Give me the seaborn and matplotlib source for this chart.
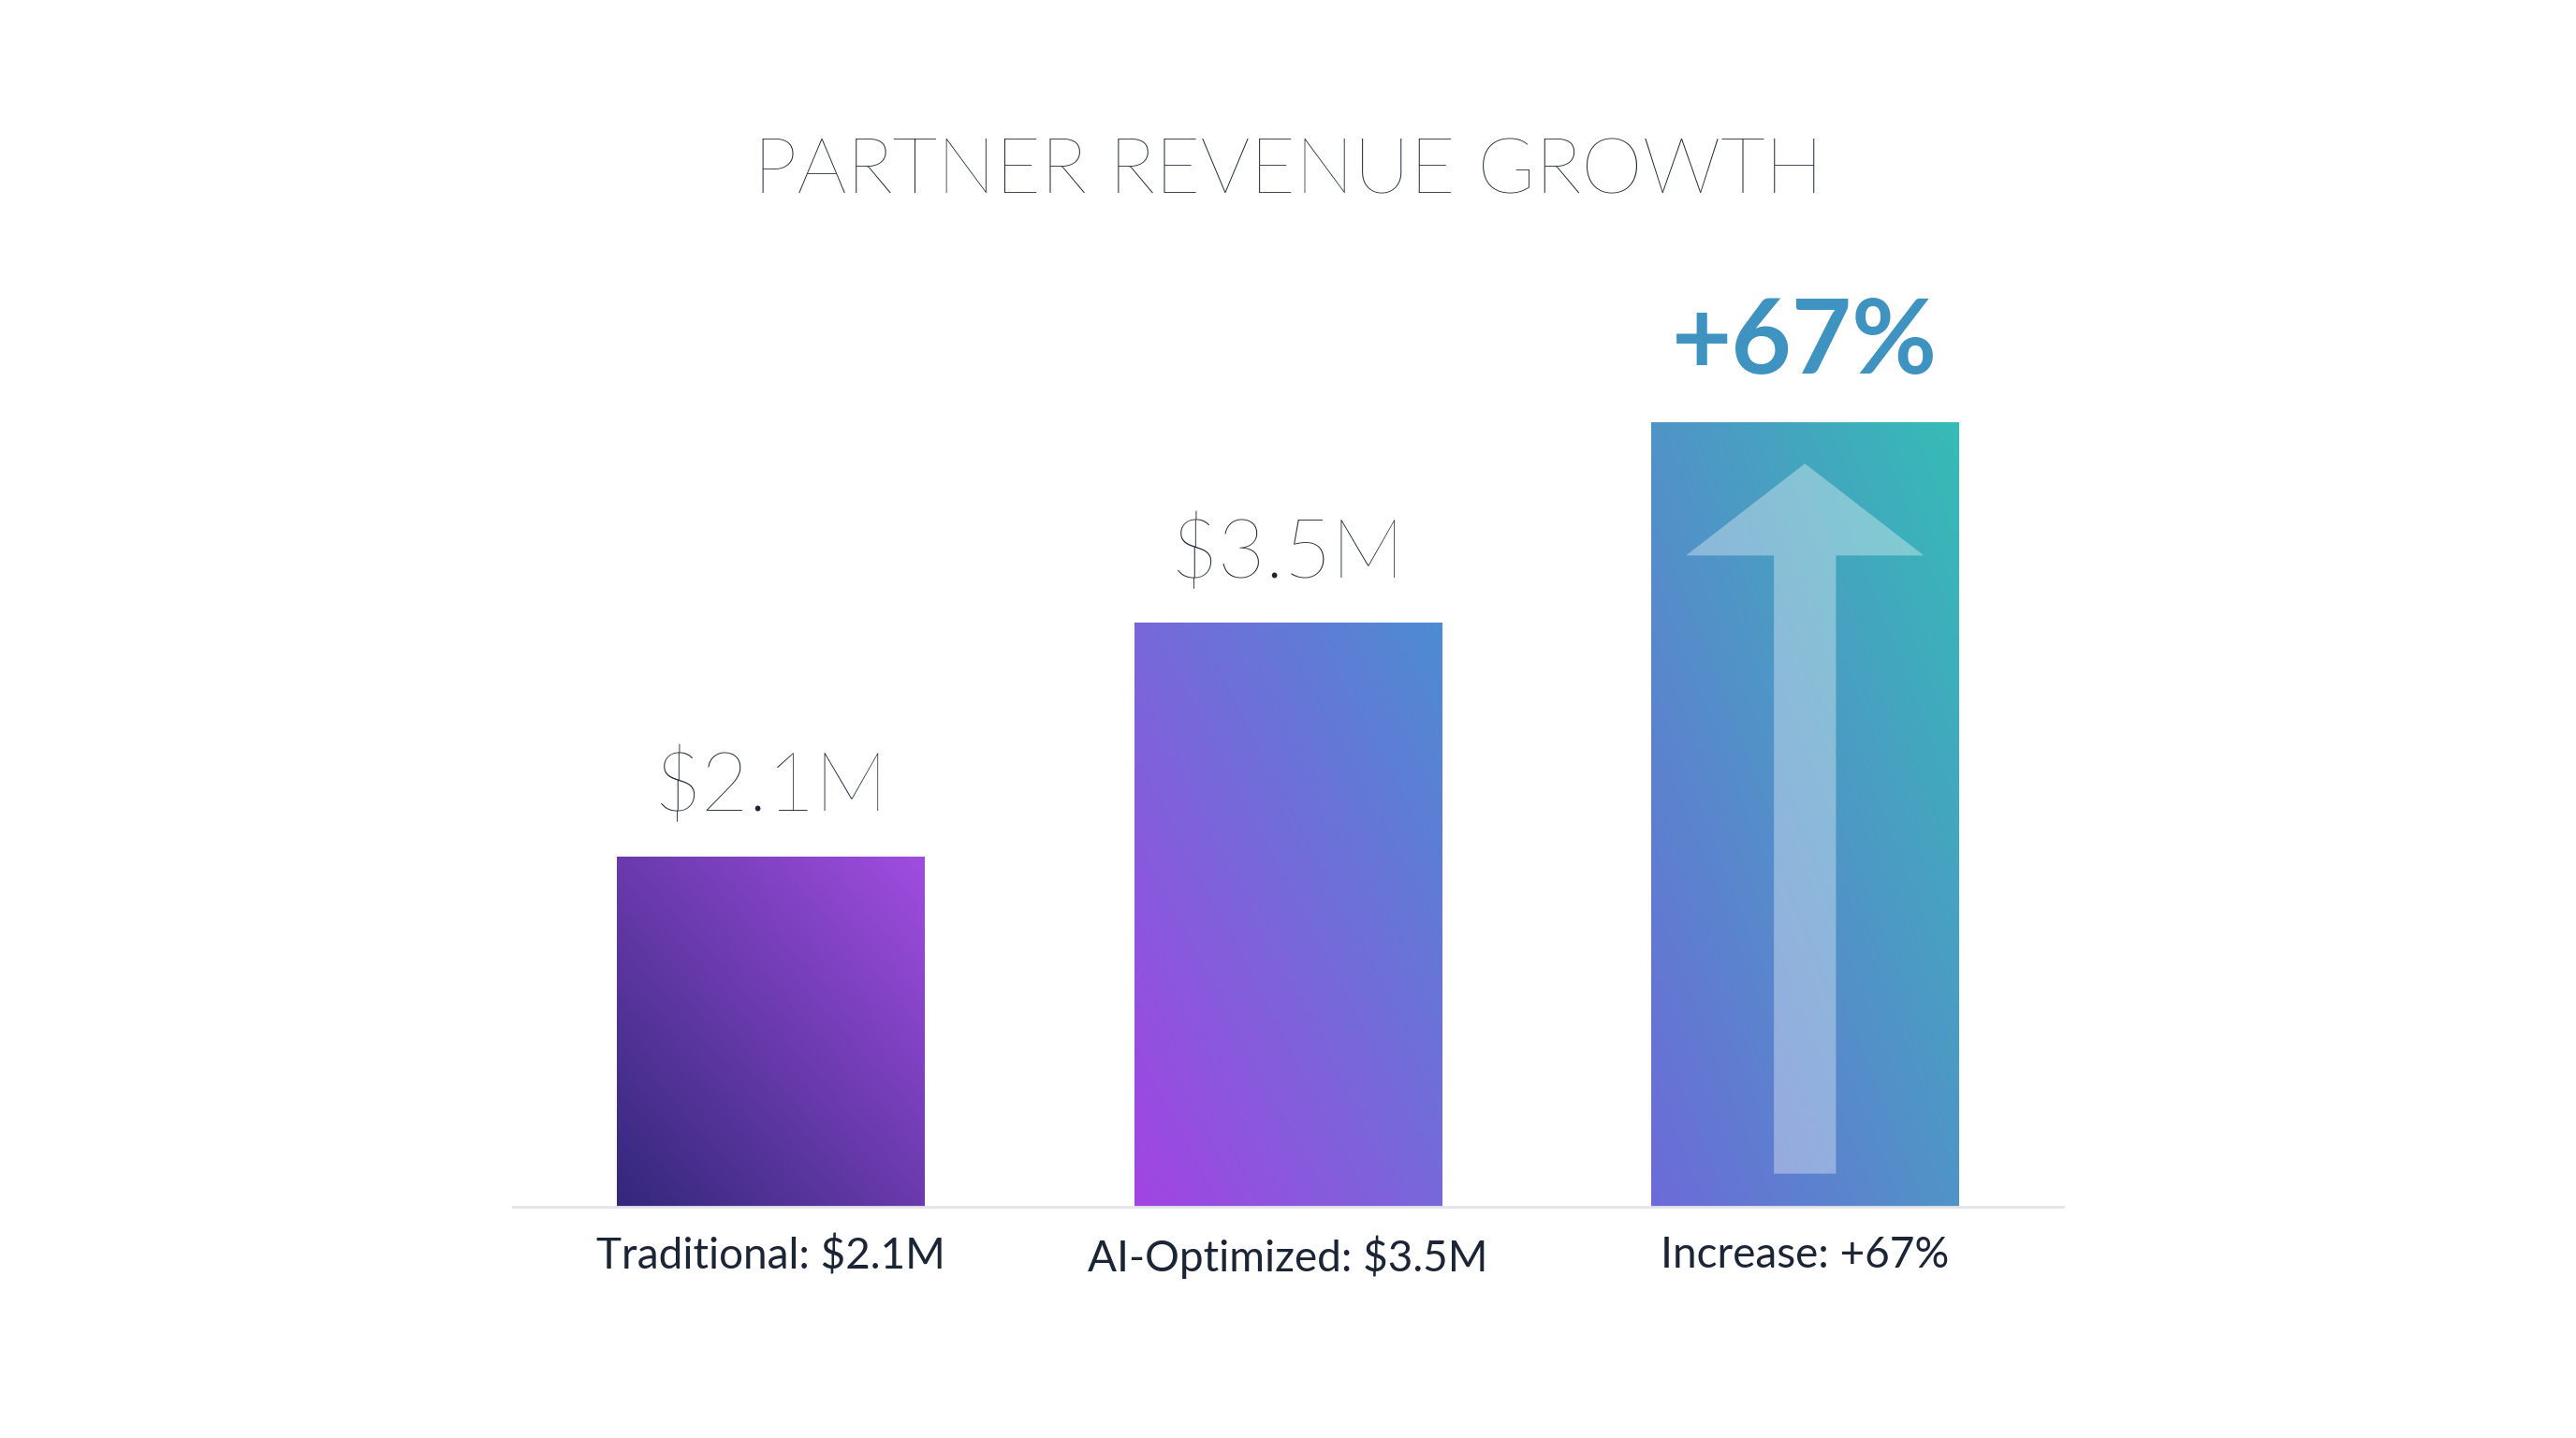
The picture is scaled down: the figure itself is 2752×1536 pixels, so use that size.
import numpy as np
import pandas as pd
import matplotlib
matplotlib.use("Agg")
import matplotlib.pyplot as plt
from matplotlib.colors import LinearSegmentedColormap
from matplotlib.patches import FancyArrow
import seaborn as sns

categories = ["Traditional", "AI-Optimized", "Increase"]
values = [2.1, 3.5, 4.7]          # bar heights in $M (third bar drawn as visual "increase")
bar_labels = ["$2.1M", "$3.5M", "+67%"]
tick_labels = ["Traditional: $2.1M", "AI-Optimized: $3.5M", "Increase: +67%"]
gradients = [("#33287a", "#a04de0"), ("#a244e2", "#4d8cd2"), ("#6c6bd8", "#35bcb6")]

sns.set_theme(style="white")
plt.rcParams["font.family"] = ["Lato", "DejaVu Sans"]

df = pd.DataFrame({"cat": categories, "val": values})
fig = plt.figure(figsize=(27.52, 15.36), dpi=100)
ax = fig.add_axes([0.199, 0.1606, 0.602, 0.639])
sns.barplot(data=df, x="cat", y="val", ax=ax, width=0.595, color="white")
ax.set_xlim(-0.5, 2.5)
ax.set_ylim(0, 5.5)

# gradient fill clipped to each bar (bottom-left dark -> top-right light)
gy, gx = np.mgrid[0:1:200j, 0:1:200j]
grad = (gx + gy) / 2
for patch, (c0, c1) in zip(ax.patches, gradients):
    cmap = LinearSegmentedColormap.from_list("g", [c0, c1])
    x0, y0 = patch.get_x(), patch.get_y()
    w, h = patch.get_width(), patch.get_height()
    im = ax.imshow(grad, cmap=cmap, origin="lower", extent=[x0, x0 + w, y0, y0 + h],
                   aspect="auto", zorder=2)
    im.set_clip_path(patch)
    patch.set_edgecolor("none")

# translucent arrow inside the increase bar
arr = FancyArrow(2, 0.2, 0, values[2] - 0.45, width=0.12, head_width=0.46,
                 head_length=0.55, length_includes_head=True,
                 color="white", alpha=0.35, lw=0, zorder=3)
ax.add_patch(arr)

for i, (v, lab) in enumerate(zip(values, bar_labels)):
    if i < 2:
        ax.text(i, v + 0.18, lab, ha="center", va="bottom", fontsize=63,
                color="#1b2535", fontweight="light")
    else:
        ax.text(i, v + 0.18, lab, ha="center", va="bottom", fontsize=80,
                color="#3f93c0", fontweight="bold")

ax.set_xticks(range(3))
ax.set_xticklabels(tick_labels, fontsize=33, color="#1b2535")
ax.tick_params(axis="x", length=0, pad=22)
ax.set_yticks([])
ax.set_xlabel("")
ax.set_ylabel("")
for s in ["top", "right", "left"]:
    ax.spines[s].set_visible(False)
ax.spines["bottom"].set_color("#e2e4e8")
ax.spines["bottom"].set_linewidth(2)

fig.text(0.5, 0.88, "PARTNER REVENUE GROWTH", ha="center", va="center",
         fontsize=60, color="#1b2535", fontweight="light")

fig.savefig("out.png", dpi=100, facecolor="white")
